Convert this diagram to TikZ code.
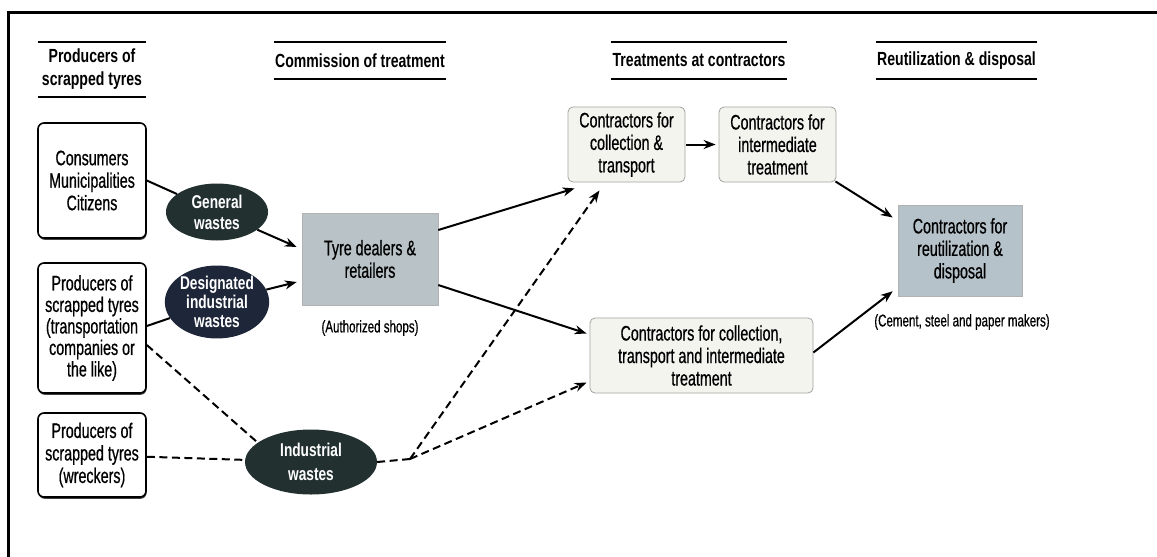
\documentclass[tikz,border=0pt]{standalone}
\usepackage{fontspec}
\setmainfont{Liberation Sans}[FakeStretch=0.68, FakeBold=0.6]
\newfontfamily\headfont{Liberation Sans}[FakeStretch=0.74]
\usetikzlibrary{arrows.meta,shapes.geometric,calc,shadows}

\definecolor{dealerfill}{HTML}{B9C3C7}
\definecolor{reutfill}{HTML}{B6C2CA}
\definecolor{lightfill}{HTML}{F4F4EF}
\definecolor{lightedge}{HTML}{A3A3A0}
\definecolor{wastedark}{HTML}{233030}
\definecolor{wastenavy}{HTML}{1E2639}

\begin{document}
\begin{tikzpicture}[x=1pt,y=-1pt,
  every node/.style={align=center, inner sep=0pt},
  bodytxt/.style={font=\fontsize{21}{22.5}\selectfont},
  head/.style={font=\headfont\fontsize{19}{23}\selectfont\bfseries},
  rulefmt/.style={line width=2pt},
  srcbox/.style={bodytxt, draw, line width=1.6pt, rounded corners=6pt, fill=white,
    drop shadow={shadow xshift=0.6pt, shadow yshift=-1.8pt, opacity=.75, fill=black}},
  lightbox/.style={bodytxt, draw=lightedge, line width=0.8pt, rounded corners=5pt, fill=lightfill},
  darkbox/.style={bodytxt, draw=black!30, line width=0.5pt, fill=dealerfill},
  waste/.style={ellipse, fill=wastedark, text=white, font=\headfont\fontsize{18.5}{21}\selectfont\bfseries},
  note/.style={font=\fontsize{17}{19}\selectfont},
  link/.style={line width=2pt},
  arr/.style={line width=2pt, -{Stealth[length=12pt,width=9pt]}},
  dashline/.style={line width=2pt, dash pattern=on 8pt off 4.5pt},
  dasharr/.style={dashline, -{Stealth[length=12pt,width=9pt]}}]

% page and frame
\useasboundingbox (0,0) rectangle (1157,557);
\fill[white] (0,0) rectangle (1157,557);
\draw[line width=3pt] (8.5,557) -- (8.5,12) -- (1157,12);

% column headings
\node[head, minimum width=108, minimum height=55] (h1) at (92,69.5) {Producers of\\scrapped tyres};
\node[head, minimum width=172, minimum height=37] (h2) at (360,60.5) {Commission of treatment};
\node[head, minimum width=176, minimum height=37] (h3) at (699,60.5) {Treatments at contractors};
\node[head, minimum width=161, minimum height=37] (h4) at (956.5,60.5) {Reutilization \& disposal};
\foreach \h in {h1,h2,h3,h4}{
  \draw[rulefmt] (\h.north west) -- (\h.north east);
  \draw[rulefmt] (\h.south west) -- (\h.south east);
}

% producers
\node[srcbox, minimum width=108, minimum height=115] (cons) at (92,180.5)
  {Consumers\\Municipalities\\Citizens};
\node[srcbox, minimum width=108, minimum height=130, font=\fontsize{21}{21.5}\selectfont] (prod) at (92,328)
  {Producers of\\scrapped tyres\\(transportation\\companies or\\the like)};
\node[srcbox, minimum width=108, minimum height=84] (wreck) at (92,455)
  {Producers of\\scrapped tyres\\(wreckers)};

% waste categories
\node[waste, minimum width=102, minimum height=57] (gen) at (217,212) {General\\wastes};
\node[waste, fill=wastenavy, minimum width=101, minimum height=72,
  font=\headfont\fontsize{18.5}{19}\selectfont\bfseries] (desig) at (217,302) {Designated\\industrial\\wastes};
\node[waste, minimum width=132, minimum height=65, font=\headfont\fontsize{18.5}{24}\selectfont\bfseries] (ind) at (311,462)
  {Industrial\\wastes};

% commission
\node[darkbox, minimum width=136, minimum height=92] (tyre) at (370,259) {Tyre dealers \&\\retailers};
\node[note] (auth) at (370,328) {(Authorized shops)};

% contractors
\node[lightbox, minimum width=117, minimum height=75] (coll) at (626.5,144.5)
  {Contractors for\\collection \&\\transport};
\node[lightbox, minimum width=117, minimum height=75] (inter) at (777.5,144.5)
  {Contractors for\\intermediate\\treatment};
\node[lightbox, minimum width=223, minimum height=75] (cti) at (701.5,355.5)
  {Contractors for collection,\\transport and intermediate\\treatment};

% reutilization
\node[darkbox, fill=reutfill, minimum width=124, minimum height=91] (reut) at (960,250.5)
  {Contractors for\\reutilization \&\\disposal};
\node[note] (makers) at (962,322) {(Cement, steel and paper makers)};

\coordinate (split) at (410,459);

% solid flows
\draw[link] (cons.east) -- (gen);
\draw[link] ($(prod.east)+(0,-2)$) -- (desig);
\draw[arr] (gen) -- ($(tyre.west)+(-5,-12)$);
\draw[arr] (desig) -- ($(tyre.west)+(-5,23)$);
\draw[arr] ($(tyre.east)+(0,-29)$) -- ($(coll.south west)+(7,6)$);
\draw[arr] ($(tyre.east)+(0,26)$) -- ($(cti.west)+(-3,-22)$);
\draw[arr, shorten >=3pt, shorten <=1pt] (coll) -- (inter);
\draw[arr] ($(inter.south east)+(-1,-1)$) -- ($(reut.west)+(-5,-33)$);
\draw[arr] ($(cti.east)+(0,-3)$) -- ($(reut.south west)+(-5,-5)$);

% industrial waste flows
\draw[dashline] ($(prod.east)+(0,17)$) -- (ind.160);
\draw[dashline] (wreck) -- (ind);
\draw[dashline] (ind.east) -- (split);
\draw[dasharr] (split) -- ($(coll.south)+(-27,8)$);
\draw[dasharr] (split) -- ($(cti.west)+(-3,27)$);
\end{tikzpicture}
\end{document}
